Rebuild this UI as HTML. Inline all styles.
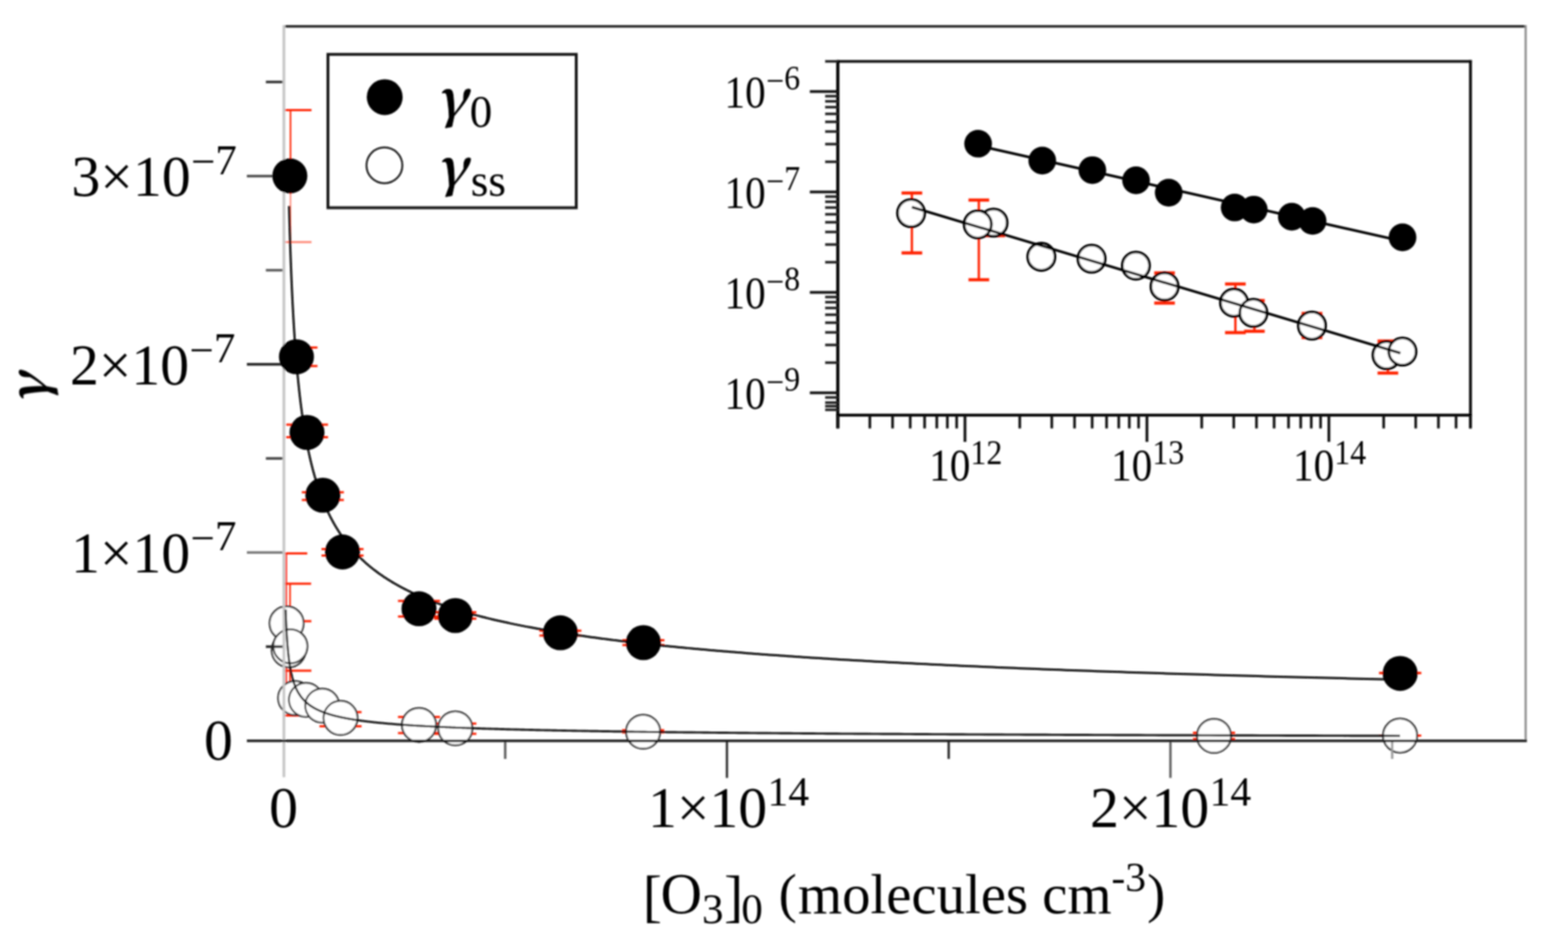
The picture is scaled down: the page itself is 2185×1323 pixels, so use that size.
<!DOCTYPE html>
<html><head><meta charset="utf-8"><title>gamma vs O3</title>
<style>
html,body{margin:0;padding:0;background:#fff;}
svg{display:block;}
text{font-family:'Liberation Serif','Times New Roman',serif}
</style></head>
<body>
<svg width="2185" height="1323" viewBox="0 0 2185 1323">
<defs><clipPath id="mclip"><rect x="396.5" y="30" width="1740" height="1010"/></clipPath>
<filter id="soft" x="-10" y="-10" width="2205" height="1343" filterUnits="userSpaceOnUse"><feGaussianBlur stdDeviation="1.0"/></filter></defs>
<rect x="0" y="0" width="2185" height="1323" fill="#fff"/>
<g filter="url(#soft)">
<line x1="395.60" y1="36.80" x2="2126.00" y2="36.80" stroke="#262626" stroke-width="3.60"/>
<line x1="2126.00" y1="35.00" x2="2126.00" y2="1032.70" stroke="#8c8c8c" stroke-width="3.00"/>
<g clip-path="url(#mclip)">
<g>
<line x1="398.90" y1="771.50" x2="398.90" y2="967.50" stroke="#ff2200" stroke-width="2.20"/>
<line x1="369.60" y1="771.50" x2="428.20" y2="771.50" stroke="#ff2200" stroke-width="3.00"/>
<line x1="369.60" y1="967.50" x2="428.20" y2="967.50" stroke="#ff2200" stroke-width="3.00"/>
</g>
<g>
<line x1="404.20" y1="813.80" x2="404.20" y2="997.50" stroke="#ff2200" stroke-width="2.20"/>
<line x1="374.90" y1="813.80" x2="433.50" y2="813.80" stroke="#ff2200" stroke-width="3.00"/>
<line x1="374.90" y1="997.50" x2="433.50" y2="997.50" stroke="#ff2200" stroke-width="3.00"/>
</g>
<g>
<line x1="404.60" y1="866.00" x2="404.60" y2="935.00" stroke="#ff2200" stroke-width="2.20"/>
<line x1="375.30" y1="866.00" x2="433.90" y2="866.00" stroke="#ff2200" stroke-width="3.00"/>
<line x1="375.30" y1="935.00" x2="433.90" y2="935.00" stroke="#ff2200" stroke-width="3.00"/>
</g>
<g>
<line x1="474.50" y1="992.70" x2="474.50" y2="1012.50" stroke="#ff2200" stroke-width="2.20"/>
<line x1="445.20" y1="992.70" x2="503.80" y2="992.70" stroke="#ff2200" stroke-width="3.00"/>
<line x1="445.20" y1="1012.50" x2="503.80" y2="1012.50" stroke="#ff2200" stroke-width="3.00"/>
</g>
<g>
<line x1="583.90" y1="999.40" x2="583.90" y2="1022.00" stroke="#ff2200" stroke-width="2.20"/>
<line x1="554.60" y1="999.40" x2="613.20" y2="999.40" stroke="#ff2200" stroke-width="3.00"/>
<line x1="554.60" y1="1022.00" x2="613.20" y2="1022.00" stroke="#ff2200" stroke-width="3.00"/>
</g>
<g>
<line x1="634.50" y1="1008.70" x2="634.50" y2="1023.00" stroke="#ff2200" stroke-width="2.20"/>
<line x1="605.20" y1="1008.70" x2="663.80" y2="1008.70" stroke="#ff2200" stroke-width="3.00"/>
<line x1="605.20" y1="1023.00" x2="663.80" y2="1023.00" stroke="#ff2200" stroke-width="3.00"/>
</g>
<g>
<line x1="896.20" y1="1018.00" x2="896.20" y2="1021.00" stroke="#ff2200" stroke-width="2.20"/>
<line x1="866.90" y1="1018.00" x2="925.50" y2="1018.00" stroke="#ff2200" stroke-width="3.00"/>
<line x1="866.90" y1="1021.00" x2="925.50" y2="1021.00" stroke="#ff2200" stroke-width="3.00"/>
</g>
<g>
<line x1="1691.70" y1="1021.50" x2="1691.70" y2="1030.20" stroke="#ff2200" stroke-width="2.20"/>
<line x1="1662.40" y1="1021.50" x2="1721.00" y2="1021.50" stroke="#ff2200" stroke-width="3.00"/>
<line x1="1662.40" y1="1030.20" x2="1721.00" y2="1030.20" stroke="#ff2200" stroke-width="3.00"/>
</g>
<g>
<line x1="1951.00" y1="1025.50" x2="1951.00" y2="1025.50" stroke="#ff2200" stroke-width="2.20"/>
<line x1="1921.70" y1="1025.50" x2="1980.30" y2="1025.50" stroke="#ff2200" stroke-width="3.00"/>
<line x1="1921.70" y1="1025.50" x2="1980.30" y2="1025.50" stroke="#ff2200" stroke-width="3.00"/>
</g>
<g>
<line x1="404.80" y1="153.50" x2="404.80" y2="270.00" stroke="#ff2200" stroke-width="2.20"/>
<line x1="375.50" y1="153.50" x2="434.10" y2="153.50" stroke="#ff2200" stroke-width="3.00"/>
</g>
<g opacity="0.50">
<line x1="404.80" y1="270.00" x2="404.80" y2="337.50" stroke="#ff2200" stroke-width="2.20"/>
<line x1="375.50" y1="337.50" x2="434.10" y2="337.50" stroke="#ff2200" stroke-width="3.00"/>
</g>
<g>
<line x1="413.10" y1="484.50" x2="413.10" y2="510.30" stroke="#ff2200" stroke-width="2.20"/>
<line x1="383.80" y1="484.50" x2="442.40" y2="484.50" stroke="#ff2200" stroke-width="3.00"/>
<line x1="383.80" y1="510.30" x2="442.40" y2="510.30" stroke="#ff2200" stroke-width="3.00"/>
</g>
<g>
<line x1="427.80" y1="592.10" x2="427.80" y2="609.50" stroke="#ff2200" stroke-width="2.20"/>
<line x1="398.50" y1="592.10" x2="457.10" y2="592.10" stroke="#ff2200" stroke-width="3.00"/>
<line x1="398.50" y1="609.50" x2="457.10" y2="609.50" stroke="#ff2200" stroke-width="3.00"/>
</g>
<g>
<line x1="449.90" y1="686.20" x2="449.90" y2="696.90" stroke="#ff2200" stroke-width="2.20"/>
<line x1="420.60" y1="686.20" x2="479.20" y2="686.20" stroke="#ff2200" stroke-width="3.00"/>
<line x1="420.60" y1="696.90" x2="479.20" y2="696.90" stroke="#ff2200" stroke-width="3.00"/>
</g>
<g>
<line x1="477.30" y1="765.60" x2="477.30" y2="774.40" stroke="#ff2200" stroke-width="2.20"/>
<line x1="448.00" y1="765.60" x2="506.60" y2="765.60" stroke="#ff2200" stroke-width="3.00"/>
<line x1="448.00" y1="774.40" x2="506.60" y2="774.40" stroke="#ff2200" stroke-width="3.00"/>
</g>
<g>
<line x1="583.90" y1="837.80" x2="583.90" y2="859.50" stroke="#ff2200" stroke-width="2.20"/>
<line x1="554.60" y1="837.80" x2="613.20" y2="837.80" stroke="#ff2200" stroke-width="3.00"/>
<line x1="554.60" y1="859.50" x2="613.20" y2="859.50" stroke="#ff2200" stroke-width="3.00"/>
</g>
<g>
<line x1="634.50" y1="853.60" x2="634.50" y2="862.60" stroke="#ff2200" stroke-width="2.20"/>
<line x1="605.20" y1="853.60" x2="663.80" y2="853.60" stroke="#ff2200" stroke-width="3.00"/>
<line x1="605.20" y1="862.60" x2="663.80" y2="862.60" stroke="#ff2200" stroke-width="3.00"/>
</g>
<g>
<line x1="780.90" y1="879.20" x2="780.90" y2="886.00" stroke="#ff2200" stroke-width="2.20"/>
<line x1="751.60" y1="879.20" x2="810.20" y2="879.20" stroke="#ff2200" stroke-width="3.00"/>
<line x1="751.60" y1="886.00" x2="810.20" y2="886.00" stroke="#ff2200" stroke-width="3.00"/>
</g>
<g>
<line x1="896.60" y1="892.60" x2="896.60" y2="899.20" stroke="#ff2200" stroke-width="2.20"/>
<line x1="867.30" y1="892.60" x2="925.90" y2="892.60" stroke="#ff2200" stroke-width="3.00"/>
<line x1="867.30" y1="899.20" x2="925.90" y2="899.20" stroke="#ff2200" stroke-width="3.00"/>
</g>
<g>
<line x1="1951.10" y1="938.30" x2="1951.10" y2="938.30" stroke="#ff2200" stroke-width="2.20"/>
<line x1="1921.80" y1="938.30" x2="1980.40" y2="938.30" stroke="#ff2200" stroke-width="3.00"/>
<line x1="1921.80" y1="938.30" x2="1980.40" y2="938.30" stroke="#ff2200" stroke-width="3.00"/>
</g>
</g>
<circle cx="399.40" cy="869.00" r="23.70" fill="#fff" stroke="#2a2a2a" stroke-width="2.5"/>
<circle cx="402.30" cy="906.50" r="23.70" fill="#fff" stroke="#2a2a2a" stroke-width="2.5"/>
<circle cx="404.60" cy="901.00" r="23.70" fill="#fff" stroke="#2a2a2a" stroke-width="2.5"/>
<circle cx="411.30" cy="973.20" r="23.70" fill="#fff" stroke="#2a2a2a" stroke-width="2.5"/>
<circle cx="426.30" cy="975.60" r="23.70" fill="#fff" stroke="#2a2a2a" stroke-width="2.5"/>
<circle cx="449.00" cy="983.60" r="23.70" fill="#fff" stroke="#2a2a2a" stroke-width="2.5"/>
<circle cx="474.50" cy="1000.80" r="23.70" fill="#fff" stroke="#2a2a2a" stroke-width="2.5"/>
<circle cx="583.90" cy="1010.70" r="23.70" fill="#fff" stroke="#2a2a2a" stroke-width="2.5"/>
<circle cx="634.50" cy="1015.40" r="23.70" fill="#fff" stroke="#2a2a2a" stroke-width="2.5"/>
<circle cx="896.20" cy="1020.10" r="23.70" fill="#fff" stroke="#2a2a2a" stroke-width="2.5"/>
<circle cx="1691.70" cy="1025.90" r="23.70" fill="#fff" stroke="#2a2a2a" stroke-width="2.5"/>
<circle cx="1951.00" cy="1025.50" r="23.70" fill="#fff" stroke="#2a2a2a" stroke-width="2.5"/>
<line x1="370.50" y1="114.30" x2="394.10" y2="114.30" stroke="#303030" stroke-width="3.60"/>
<line x1="344.00" y1="245.50" x2="394.10" y2="245.50" stroke="#4a4a4a" stroke-width="3.60"/>
<line x1="370.50" y1="376.70" x2="394.10" y2="376.70" stroke="#5a5a5a" stroke-width="3.60"/>
<line x1="344.00" y1="507.90" x2="394.10" y2="507.90" stroke="#262626" stroke-width="3.60"/>
<line x1="370.50" y1="639.10" x2="394.10" y2="639.10" stroke="#444" stroke-width="3.60"/>
<line x1="344.00" y1="770.30" x2="394.10" y2="770.30" stroke="#777" stroke-width="3.60"/>
<line x1="370.50" y1="901.50" x2="394.10" y2="901.50" stroke="#222" stroke-width="3.60"/>
<line x1="704.00" y1="1032.70" x2="704.00" y2="1058.00" stroke="#555" stroke-width="3.20"/>
<line x1="1013.00" y1="1032.70" x2="1013.00" y2="1084.50" stroke="#2e2e2e" stroke-width="3.20"/>
<line x1="1322.00" y1="1032.70" x2="1322.00" y2="1058.00" stroke="#222" stroke-width="3.20"/>
<line x1="1631.00" y1="1032.70" x2="1631.00" y2="1084.50" stroke="#5a5a5a" stroke-width="3.20"/>
<line x1="1940.00" y1="1032.70" x2="1940.00" y2="1058.00" stroke="#9a9a9a" stroke-width="3.20"/>
<line x1="395.60" y1="35.00" x2="395.60" y2="1083.50" stroke="#c6c6c6" stroke-width="3.80"/>
<line x1="344.00" y1="1032.70" x2="2127.70" y2="1032.70" stroke="#1a1a1a" stroke-width="3.60"/>
<polyline points="402.80,287.18 402.86,289.48 402.92,291.78 402.98,294.08 403.04,296.36 403.10,298.64 403.16,300.91 403.22,303.17 403.29,305.43 403.35,307.68 403.41,309.92 403.48,312.16 403.54,314.39 403.61,316.61 403.67,318.83 403.74,321.03 403.80,323.24 403.87,325.43 403.94,327.62 404.01,329.80 404.07,331.97 404.14,334.14 404.21,336.30 404.28,338.46 404.35,340.61 404.42,342.75 404.50,344.88 404.57,347.01 404.64,349.13 404.71,351.25 404.79,353.35 404.86,355.46 404.94,357.55 405.01,359.64 405.09,361.72 405.16,363.80 405.24,365.87 405.32,367.93 405.40,369.99 405.48,372.04 405.56,374.08 405.64,376.12 405.72,378.15 405.80,380.17 405.88,382.19 405.96,384.20 406.05,386.21 406.13,388.21 406.22,390.20 406.30,392.19 406.39,394.17 406.47,396.15 406.56,398.12 406.65,400.08 406.74,402.04 406.83,403.99 406.91,405.93 407.01,407.87 407.10,409.81 407.19,411.73 407.28,413.65 407.37,415.57 407.47,417.48 407.56,419.38 407.66,421.28 407.75,423.17 407.85,425.06 407.95,426.94 408.05,428.81 408.15,430.68 408.25,432.54 408.35,434.40 408.45,436.25 408.55,438.09 408.65,439.93 408.76,441.77 408.86,443.60 408.97,445.42 409.07,447.23 409.18,449.05 409.29,450.85 409.40,452.65 409.50,454.45 409.62,456.24 409.73,458.02 409.84,459.80 409.95,461.57 410.06,463.34 410.18,465.10 410.29,466.85 410.41,468.60 410.53,470.35 410.64,472.09 410.76,473.82 410.88,475.55 411.00,477.28 411.13,478.99 411.25,480.71 411.37,482.41 411.50,484.12 411.62,485.81 411.75,487.51 411.87,489.19 412.00,490.87 412.13,492.55 412.26,494.22 412.39,495.89 412.52,497.55 412.66,499.20 412.79,500.85 412.93,502.50 413.06,504.14 413.20,505.77 413.34,507.40 413.48,509.03 413.62,510.65 413.76,512.26 413.90,513.87 414.05,515.48 414.19,517.08 414.34,518.67 414.48,520.26 414.63,521.85 414.78,523.43 414.93,525.01 415.08,526.58 415.23,528.14 415.39,529.70 415.54,531.26 415.70,532.81 415.86,534.36 416.01,535.90 416.17,537.44 416.33,538.97 416.50,540.50 416.66,542.02 416.82,543.54 416.99,545.05 417.16,546.56 417.33,548.06 417.49,549.56 417.67,551.06 417.84,552.55 418.01,554.03 418.19,555.51 418.36,556.99 418.54,558.46 418.72,559.93 418.90,561.39 419.08,562.85 419.26,564.30 419.45,565.75 419.63,567.19 419.82,568.64 420.01,570.07 420.20,571.50 420.39,572.93 420.58,574.35 420.78,575.77 420.97,577.18 421.17,578.59 421.37,580.00 421.57,581.40 421.77,582.79 421.97,584.19 422.18,585.57 422.38,586.96 422.59,588.33 422.80,589.71 423.01,591.08 423.23,592.45 423.44,593.81 423.66,595.17 423.87,596.52 424.09,597.87 424.31,599.21 424.54,600.56 424.76,601.89 424.99,603.22 425.22,604.55 425.44,605.88 425.68,607.20 425.91,608.51 426.14,609.83 426.38,611.14 426.62,612.44 426.86,613.74 427.10,615.04 427.34,616.33 427.59,617.62 427.84,618.90 428.09,620.18 428.34,621.46 428.59,622.73 428.85,624.00 429.10,625.26 429.36,626.52 429.62,627.78 429.89,629.03 430.15,630.28 430.42,631.52 430.69,632.77 430.96,634.00 431.23,635.24 431.51,636.47 431.78,637.69 432.06,638.91 432.34,640.13 432.63,641.35 432.91,642.56 433.20,643.76 433.49,644.97 433.78,646.17 434.08,647.36 434.37,648.55 434.67,649.74 434.98,650.93 435.28,652.11 435.58,653.29 435.89,654.46 436.20,655.63 436.52,656.80 436.83,657.96 437.15,659.12 437.47,660.27 437.79,661.43 438.12,662.58 438.44,663.72 438.77,664.86 439.11,666.00 439.44,667.13 439.78,668.27 440.12,669.39 440.46,670.52 440.81,671.64 441.15,672.75 441.51,673.87 441.86,674.98 442.21,676.08 442.57,677.19 442.93,678.29 443.30,679.38 443.67,680.48 444.03,681.57 444.41,682.65 444.78,683.74 445.16,684.82 445.54,685.89 445.93,686.96 446.31,688.03 446.70,689.10 447.09,690.16 447.49,691.22 447.89,692.28 448.29,693.33 448.69,694.38 449.10,695.43 449.51,696.47 449.93,697.51 450.34,698.55 450.76,699.58 451.19,700.61 451.61,701.64 452.04,702.67 452.48,703.69 452.91,704.70 453.35,705.72 453.80,706.73 454.24,707.74 454.69,708.74 455.15,709.75 455.60,710.75 456.06,711.74 456.53,712.73 457.00,713.72 457.47,714.71 457.94,715.69 458.42,716.68 458.90,717.65 459.39,718.63 459.87,719.60 460.37,720.57 460.86,721.53 461.36,722.50 461.87,723.46 462.38,724.41 462.89,725.37 463.40,726.32 463.92,727.27 464.45,728.21 464.97,729.15 465.50,730.09 466.04,731.03 466.58,731.96 467.12,732.89 467.67,733.82 468.22,734.74 468.78,735.66 469.34,736.58 469.90,737.50 470.47,738.41 471.04,739.32 471.62,740.23 472.20,741.14 472.79,742.04 473.38,742.94 473.98,743.83 474.58,744.73 475.18,745.62 475.79,746.51 476.40,747.39 477.02,748.27 477.64,749.15 478.27,750.03 478.90,750.91 479.54,751.78 480.18,752.65 480.83,753.51 481.48,754.38 482.14,755.24 482.80,756.10 483.47,756.95 484.14,757.80 484.82,758.66 485.50,759.50 486.19,760.35 486.88,761.19 487.58,762.03 488.28,762.87 488.99,763.70 489.70,764.54 490.42,765.36 491.14,766.19 491.87,767.02 492.61,767.84 493.35,768.66 494.10,769.47 494.85,770.29 495.61,771.10 496.37,771.91 497.14,772.72 497.92,773.52 498.70,774.32 499.49,775.12 500.28,775.92 501.08,776.71 501.89,777.51 502.70,778.29 503.52,779.08 504.34,779.87 505.17,780.65 506.01,781.43 506.85,782.21 507.70,782.98 508.56,783.75 509.42,784.52 510.29,785.29 511.16,786.06 512.04,786.82 512.93,787.58 513.83,788.34 514.73,789.09 515.64,789.85 516.56,790.60 517.48,791.35 518.41,792.09 519.35,792.84 520.29,793.58 521.24,794.32 522.20,795.06 523.17,795.79 524.14,796.53 525.12,797.26 526.11,797.99 527.11,798.71 528.11,799.44 529.12,800.16 530.14,800.88 531.16,801.59 532.20,802.31 533.24,803.02 534.29,803.73 535.35,804.44 536.41,805.15 537.49,805.85 538.57,806.55 539.66,807.25 540.76,807.95 541.87,808.64 542.98,809.34 544.10,810.03 545.24,810.72 546.38,811.40 547.53,812.09 548.69,812.77 549.85,813.45 551.03,814.13 552.21,814.81 553.41,815.48 554.61,816.15 555.82,816.82 557.04,817.49 558.27,818.16 559.51,818.82 560.76,819.48 562.02,820.14 563.29,820.80 564.57,821.45 565.86,822.11 567.15,822.76 568.46,823.41 569.78,824.06 571.11,824.70 572.44,825.34 573.79,825.99 575.15,826.63 576.52,827.26 577.90,827.90 579.28,828.53 580.68,829.16 582.09,829.79 583.52,830.42 584.95,831.05 586.39,831.67 587.84,832.29 589.31,832.91 590.78,833.53 592.27,834.15 593.77,834.76 595.28,835.37 596.80,835.98 598.33,836.59 599.87,837.20 601.43,837.80 603.00,838.41 604.58,839.01 606.17,839.61 607.77,840.20 609.39,840.80 611.02,841.39 612.66,841.99 614.31,842.58 615.98,843.16 617.65,843.75 619.34,844.34 621.05,844.92 622.76,845.50 624.49,846.08 626.24,846.66 627.99,847.23 629.76,847.80 631.55,848.38 633.34,848.95 635.15,849.52 636.98,850.08 638.81,850.65 640.66,851.21 642.53,851.77 644.41,852.33 646.30,852.89 648.21,853.45 650.14,854.00 652.07,854.55 654.03,855.10 655.99,855.65 657.97,856.20 659.97,856.75 661.98,857.29 664.01,857.83 666.05,858.38 668.11,858.91 670.19,859.45 672.28,859.99 674.38,860.52 676.50,861.05 678.64,861.59 680.80,862.12 682.97,862.64 685.15,863.17 687.36,863.69 689.58,864.22 691.81,864.74 694.07,865.26 696.34,865.78 698.63,866.29 700.93,866.81 703.26,867.32 705.60,867.83 707.96,868.34 710.33,868.85 712.73,869.36 715.14,869.86 717.57,870.37 720.02,870.87 722.49,871.37 724.98,871.87 727.48,872.37 730.01,872.86 732.55,873.36 735.11,873.85 737.70,874.34 740.30,874.83 742.92,875.32 745.56,875.81 748.23,876.29 750.91,876.77 753.61,877.26 756.34,877.74 759.08,878.22 761.84,878.70 764.63,879.17 767.44,879.65 770.27,880.12 773.12,880.59 775.99,881.06 778.88,881.53 781.80,882.00 784.73,882.47 787.69,882.93 790.67,883.39 793.68,883.86 796.71,884.32 799.76,884.78 802.83,885.23 805.93,885.69 809.05,886.14 812.19,886.60 815.36,887.05 818.55,887.50 821.77,887.95 825.01,888.40 828.28,888.84 831.57,889.29 834.88,889.73 838.22,890.17 841.59,890.62 844.98,891.05 848.40,891.49 851.84,891.93 855.31,892.37 858.81,892.80 862.33,893.23 865.88,893.66 869.45,894.09 873.06,894.52 876.69,894.95 880.34,895.38 884.03,895.80 887.74,896.22 891.49,896.65 895.26,897.07 899.06,897.49 902.88,897.91 906.74,898.32 910.63,898.74 914.54,899.15 918.49,899.57 922.46,899.98 926.47,900.39 930.50,900.80 934.57,901.21 938.67,901.61 942.80,902.02 946.96,902.42 951.15,902.83 955.37,903.23 959.63,903.63 963.92,904.03 968.24,904.43 972.59,904.82 976.98,905.22 981.40,905.61 985.85,906.01 990.34,906.40 994.86,906.79 999.41,907.18 1004.00,907.57 1008.63,907.95 1013.29,908.34 1017.98,908.72 1022.71,909.11 1027.48,909.49 1032.28,909.87 1037.12,910.25 1042.00,910.63 1046.91,911.01 1051.86,911.38 1056.85,911.76 1061.88,912.13 1066.94,912.51 1072.05,912.88 1077.19,913.25 1082.37,913.62 1087.59,913.99 1092.85,914.35 1098.15,914.72 1103.49,915.08 1108.87,915.45 1114.29,915.81 1119.75,916.17 1125.25,916.53 1130.80,916.89 1136.39,917.25 1142.02,917.61 1147.69,917.96 1153.41,918.32 1159.17,918.67 1164.97,919.03 1170.82,919.38 1176.71,919.73 1182.65,920.08 1188.63,920.43 1194.65,920.77 1200.73,921.12 1206.84,921.46 1213.01,921.81 1219.22,922.15 1225.48,922.49 1231.79,922.83 1238.14,923.17 1244.55,923.51 1251.00,923.85 1257.50,924.19 1264.05,924.52 1270.65,924.86 1277.30,925.19 1284.00,925.52 1290.75,925.86 1297.55,926.19 1304.41,926.52 1311.31,926.84 1318.27,927.17 1325.28,927.50 1332.35,927.82 1339.46,928.15 1346.64,928.47 1353.86,928.79 1361.15,929.12 1368.48,929.44 1375.88,929.76 1383.32,930.07 1390.83,930.39 1398.39,930.71 1406.01,931.02 1413.69,931.34 1421.43,931.65 1429.22,931.96 1437.07,932.28 1444.99,932.59 1452.96,932.90 1461.00,933.21 1469.09,933.51 1477.25,933.82 1485.47,934.13 1493.75,934.43 1502.09,934.73 1510.50,935.04 1518.97,935.34 1527.51,935.64 1536.11,935.94 1544.77,936.24 1553.50,936.54 1562.30,936.84 1571.17,937.13 1580.10,937.43 1589.10,937.72 1598.17,938.02 1607.30,938.31 1616.51,938.60 1625.79,938.89 1635.13,939.18 1644.55,939.47 1654.04,939.76 1663.60,940.05 1673.24,940.34 1682.94,940.62 1692.72,940.91 1702.58,941.19 1712.51,941.47 1722.51,941.76 1732.60,942.04 1742.75,942.32 1752.99,942.60 1763.30,942.88 1773.69,943.15 1784.16,943.43 1794.71,943.71 1805.34,943.98 1816.05,944.26 1826.84,944.53 1837.72,944.80 1848.67,945.07 1859.71,945.35 1870.84,945.62 1882.04,945.89 1893.34,946.15 1904.72,946.42 1916.18,946.69 1927.73,946.95 1939.37,947.22 1951.10,947.48" fill="none" stroke="#080808" stroke-width="3.00" stroke-linejoin="round"/>
<polyline points="398.10,849.78 398.13,850.64 398.16,851.49 398.18,852.34 398.21,853.19 398.24,854.03 398.27,854.86 398.30,855.70 398.33,856.52 398.36,857.35 398.39,858.17 398.42,858.99 398.45,859.80 398.48,860.61 398.51,861.42 398.54,862.22 398.57,863.02 398.61,863.81 398.64,864.60 398.67,865.39 398.70,866.17 398.74,866.95 398.77,867.73 398.80,868.50 398.84,869.27 398.87,870.03 398.91,870.80 398.94,871.55 398.98,872.31 399.01,873.06 399.05,873.81 399.08,874.55 399.12,875.29 399.16,876.03 399.19,876.76 399.23,877.49 399.27,878.22 399.31,878.94 399.34,879.66 399.38,880.38 399.42,881.09 399.46,881.80 399.50,882.51 399.54,883.21 399.58,883.91 399.62,884.61 399.66,885.30 399.71,885.99 399.75,886.68 399.79,887.36 399.83,888.04 399.88,888.72 399.92,889.39 399.96,890.07 400.01,890.73 400.05,891.40 400.10,892.06 400.14,892.72 400.19,893.37 400.24,894.03 400.28,894.68 400.33,895.32 400.38,895.96 400.43,896.60 400.47,897.24 400.52,897.88 400.57,898.51 400.62,899.14 400.67,899.76 400.72,900.38 400.77,901.00 400.82,901.62 400.88,902.23 400.93,902.84 400.98,903.45 401.04,904.06 401.09,904.66 401.14,905.26 401.20,905.86 401.25,906.45 401.31,907.04 401.37,907.63 401.42,908.22 401.48,908.80 401.54,909.38 401.60,909.96 401.66,910.53 401.71,911.10 401.77,911.67 401.83,912.24 401.90,912.80 401.96,913.36 402.02,913.92 402.08,914.48 402.15,915.03 402.21,915.58 402.27,916.13 402.34,916.68 402.40,917.22 402.47,917.76 402.54,918.30 402.60,918.84 402.67,919.37 402.74,919.90 402.81,920.43 402.88,920.95 402.95,921.48 403.02,922.00 403.09,922.52 403.16,923.03 403.24,923.54 403.31,924.06 403.38,924.56 403.46,925.07 403.53,925.57 403.61,926.08 403.69,926.58 403.77,927.07 403.84,927.57 403.92,928.06 404.00,928.55 404.08,929.04 404.16,929.52 404.24,930.01 404.33,930.49 404.41,930.96 404.49,931.44 404.58,931.92 404.66,932.39 404.75,932.86 404.84,933.32 404.93,933.79 405.01,934.25 405.10,934.71 405.19,935.17 405.28,935.63 405.38,936.08 405.47,936.54 405.56,936.99 405.66,937.43 405.75,937.88 405.85,938.32 405.94,938.77 406.04,939.21 406.14,939.64 406.24,940.08 406.34,940.51 406.44,940.95 406.54,941.37 406.65,941.80 406.75,942.23 406.86,942.65 406.96,943.07 407.07,943.49 407.18,943.91 407.28,944.33 407.39,944.74 407.50,945.15 407.62,945.56 407.73,945.97 407.84,946.38 407.96,946.78 408.07,947.18 408.19,947.58 408.31,947.98 408.43,948.38 408.55,948.77 408.67,949.17 408.79,949.56 408.91,949.95 409.04,950.33 409.16,950.72 409.29,951.10 409.41,951.49 409.54,951.87 409.67,952.24 409.80,952.62 409.94,953.00 410.07,953.37 410.20,953.74 410.34,954.11 410.48,954.48 410.61,954.84 410.75,955.21 410.89,955.57 411.04,955.93 411.18,956.29 411.32,956.65 411.47,957.01 411.62,957.36 411.76,957.71 411.91,958.06 412.07,958.41 412.22,958.76 412.37,959.11 412.53,959.45 412.68,959.80 412.84,960.14 413.00,960.48 413.16,960.81 413.32,961.15 413.49,961.49 413.65,961.82 413.82,962.15 413.98,962.48 414.15,962.81 414.33,963.14 414.50,963.46 414.67,963.79 414.85,964.11 415.02,964.43 415.20,964.75 415.38,965.07 415.57,965.39 415.75,965.70 415.93,966.02 416.12,966.33 416.31,966.64 416.50,966.95 416.69,967.26 416.88,967.56 417.08,967.87 417.28,968.17 417.48,968.47 417.68,968.77 417.88,969.07 418.08,969.37 418.29,969.67 418.50,969.96 418.71,970.26 418.92,970.55 419.13,970.84 419.35,971.13 419.56,971.42 419.78,971.70 420.00,971.99 420.23,972.27 420.45,972.56 420.68,972.84 420.91,973.12 421.14,973.40 421.37,973.68 421.61,973.95 421.85,974.23 422.09,974.50 422.33,974.77 422.57,975.04 422.82,975.31 423.06,975.58 423.32,975.85 423.57,976.12 423.82,976.38 424.08,976.65 424.34,976.91 424.60,977.17 424.87,977.43 425.13,977.69 425.40,977.95 425.67,978.20 425.95,978.46 426.22,978.71 426.50,978.96 426.78,979.22 427.07,979.47 427.35,979.71 427.64,979.96 427.93,980.21 428.23,980.46 428.52,980.70 428.82,980.94 429.12,981.19 429.43,981.43 429.73,981.67 430.04,981.91 430.36,982.14 430.67,982.38 430.99,982.62 431.31,982.85 431.64,983.08 431.96,983.32 432.29,983.55 432.63,983.78 432.96,984.01 433.30,984.24 433.64,984.46 433.99,984.69 434.33,984.91 434.69,985.14 435.04,985.36 435.40,985.58 435.76,985.80 436.12,986.02 436.49,986.24 436.86,986.46 437.23,986.67 437.61,986.89 437.99,987.10 438.37,987.32 438.76,987.53 439.15,987.74 439.54,987.95 439.94,988.16 440.34,988.37 440.75,988.58 441.15,988.78 441.57,988.99 441.98,989.19 442.40,989.40 442.82,989.60 443.25,989.80 443.68,990.00 444.12,990.20 444.55,990.40 445.00,990.60 445.44,990.80 445.89,990.99 446.35,991.19 446.80,991.38 447.27,991.58 447.73,991.77 448.20,991.96 448.68,992.15 449.16,992.34 449.64,992.53 450.13,992.72 450.62,992.91 451.12,993.09 451.62,993.28 452.12,993.46 452.63,993.65 453.15,993.83 453.67,994.01 454.19,994.19 454.72,994.37 455.25,994.55 455.79,994.73 456.33,994.91 456.88,995.09 457.43,995.26 457.99,995.44 458.55,995.61 459.12,995.78 459.69,995.96 460.26,996.13 460.85,996.30 461.43,996.47 462.03,996.64 462.63,996.81 463.23,996.98 463.84,997.14 464.45,997.31 465.07,997.48 465.70,997.64 466.33,997.81 466.96,997.97 467.61,998.13 468.25,998.29 468.91,998.46 469.57,998.62 470.23,998.78 470.90,998.93 471.58,999.09 472.26,999.25 472.95,999.41 473.65,999.56 474.35,999.72 475.06,999.87 475.77,1000.03 476.49,1000.18 477.22,1000.33 477.96,1000.48 478.70,1000.63 479.44,1000.78 480.20,1000.93 480.96,1001.08 481.72,1001.23 482.50,1001.38 483.28,1001.52 484.07,1001.67 484.86,1001.81 485.66,1001.96 486.47,1002.10 487.29,1002.25 488.11,1002.39 488.94,1002.53 489.78,1002.67 490.63,1002.81 491.48,1002.95 492.34,1003.09 493.21,1003.23 494.09,1003.37 494.97,1003.51 495.86,1003.64 496.76,1003.78 497.67,1003.91 498.59,1004.05 499.51,1004.18 500.44,1004.32 501.38,1004.45 502.33,1004.58 503.29,1004.71 504.26,1004.84 505.23,1004.97 506.21,1005.10 507.21,1005.23 508.21,1005.36 509.22,1005.49 510.24,1005.62 511.27,1005.74 512.30,1005.87 513.35,1006.00 514.41,1006.12 515.47,1006.25 516.55,1006.37 517.63,1006.49 518.73,1006.62 519.83,1006.74 520.94,1006.86 522.07,1006.98 523.20,1007.10 524.35,1007.22 525.50,1007.34 526.66,1007.46 527.84,1007.58 529.02,1007.69 530.22,1007.81 531.43,1007.93 532.64,1008.04 533.87,1008.16 535.11,1008.27 536.36,1008.39 537.62,1008.50 538.90,1008.62 540.18,1008.73 541.47,1008.84 542.78,1008.95 544.10,1009.06 545.43,1009.17 546.77,1009.28 548.13,1009.39 549.49,1009.50 550.87,1009.61 552.26,1009.72 553.67,1009.83 555.08,1009.94 556.51,1010.04 557.95,1010.15 559.41,1010.25 560.87,1010.36 562.35,1010.46 563.85,1010.57 565.35,1010.67 566.87,1010.77 568.41,1010.88 569.95,1010.98 571.52,1011.08 573.09,1011.18 574.68,1011.28 576.28,1011.38 577.90,1011.48 579.53,1011.58 581.18,1011.68 582.84,1011.78 584.52,1011.88 586.21,1011.97 587.91,1012.07 589.64,1012.17 591.37,1012.26 593.12,1012.36 594.89,1012.46 596.68,1012.55 598.48,1012.64 600.29,1012.74 602.12,1012.83 603.97,1012.92 605.84,1013.02 607.72,1013.11 609.62,1013.20 611.53,1013.29 613.46,1013.38 615.41,1013.47 617.38,1013.56 619.36,1013.65 621.36,1013.74 623.38,1013.83 625.42,1013.92 627.48,1014.01 629.55,1014.10 631.65,1014.18 633.76,1014.27 635.89,1014.36 638.04,1014.44 640.21,1014.53 642.39,1014.61 644.60,1014.70 646.83,1014.78 649.08,1014.86 651.34,1014.95 653.63,1015.03 655.94,1015.11 658.27,1015.20 660.62,1015.28 662.99,1015.36 665.38,1015.44 667.79,1015.52 670.22,1015.60 672.68,1015.68 675.16,1015.76 677.66,1015.84 680.18,1015.92 682.72,1016.00 685.29,1016.08 687.88,1016.16 690.50,1016.23 693.13,1016.31 695.79,1016.39 698.48,1016.46 701.18,1016.54 703.92,1016.61 706.67,1016.69 709.45,1016.76 712.26,1016.84 715.09,1016.91 717.95,1016.99 720.83,1017.06 723.74,1017.13 726.67,1017.21 729.63,1017.28 732.62,1017.35 735.63,1017.42 738.67,1017.50 741.73,1017.57 744.83,1017.64 747.95,1017.71 751.10,1017.78 754.28,1017.85 757.48,1017.92 760.72,1017.99 763.98,1018.06 767.27,1018.12 770.59,1018.19 773.95,1018.26 777.33,1018.33 780.74,1018.40 784.18,1018.46 787.65,1018.53 791.16,1018.60 794.69,1018.66 798.26,1018.73 801.86,1018.79 805.49,1018.86 809.15,1018.92 812.85,1018.99 816.57,1019.05 820.34,1019.12 824.13,1019.18 827.96,1019.24 831.82,1019.30 835.72,1019.37 839.65,1019.43 843.62,1019.49 847.62,1019.55 851.66,1019.62 855.74,1019.68 859.85,1019.74 864.00,1019.80 868.18,1019.86 872.40,1019.92 876.66,1019.98 880.96,1020.04 885.30,1020.10 889.67,1020.16 894.09,1020.22 898.54,1020.27 903.03,1020.33 907.57,1020.39 912.14,1020.45 916.76,1020.51 921.41,1020.56 926.11,1020.62 930.85,1020.68 935.63,1020.73 940.45,1020.79 945.32,1020.84 950.23,1020.90 955.19,1020.95 960.18,1021.01 965.23,1021.06 970.32,1021.12 975.45,1021.17 980.63,1021.23 985.85,1021.28 991.13,1021.33 996.45,1021.39 1001.81,1021.44 1007.23,1021.49 1012.69,1021.55 1018.20,1021.60 1023.76,1021.65 1029.37,1021.70 1035.03,1021.75 1040.74,1021.80 1046.51,1021.86 1052.32,1021.91 1058.19,1021.96 1064.10,1022.01 1070.07,1022.06 1076.10,1022.11 1082.17,1022.16 1088.31,1022.21 1094.49,1022.25 1100.73,1022.30 1107.03,1022.35 1113.39,1022.40 1119.80,1022.45 1126.26,1022.50 1132.79,1022.54 1139.37,1022.59 1146.01,1022.64 1152.72,1022.69 1159.48,1022.73 1166.30,1022.78 1173.18,1022.83 1180.12,1022.87 1187.13,1022.92 1194.20,1022.96 1201.33,1023.01 1208.52,1023.06 1215.78,1023.10 1223.11,1023.15 1230.50,1023.19 1237.95,1023.24 1245.47,1023.28 1253.06,1023.32 1260.72,1023.37 1268.44,1023.41 1276.24,1023.45 1284.10,1023.50 1292.03,1023.54 1300.04,1023.58 1308.12,1023.63 1316.26,1023.67 1324.48,1023.71 1332.78,1023.75 1341.15,1023.80 1349.59,1023.84 1358.11,1023.88 1366.70,1023.92 1375.37,1023.96 1384.12,1024.00 1392.94,1024.04 1401.85,1024.08 1410.83,1024.12 1419.90,1024.16 1429.04,1024.20 1438.27,1024.24 1447.58,1024.28 1456.97,1024.32 1466.45,1024.36 1476.01,1024.40 1485.65,1024.44 1495.39,1024.48 1505.20,1024.52 1515.11,1024.56 1525.11,1024.59 1535.19,1024.63 1545.36,1024.67 1555.63,1024.71 1565.99,1024.74 1576.43,1024.78 1586.98,1024.82 1597.61,1024.86 1608.34,1024.89 1619.17,1024.93 1630.09,1024.96 1641.11,1025.00 1652.23,1025.04 1663.45,1025.07 1674.77,1025.11 1686.19,1025.14 1697.71,1025.18 1709.34,1025.21 1721.06,1025.25 1732.90,1025.28 1744.83,1025.32 1756.88,1025.35 1769.03,1025.39 1781.29,1025.42 1793.66,1025.46 1806.14,1025.49 1818.73,1025.52 1831.44,1025.56 1844.26,1025.59 1857.19,1025.62 1870.23,1025.66 1883.40,1025.69 1896.68,1025.72 1910.08,1025.76 1923.60,1025.79 1937.24,1025.82 1951.00,1025.85" fill="none" stroke="#101010" stroke-width="2.90" stroke-linejoin="round"/>
<circle cx="403.90" cy="245.20" r="24.40" fill="#000"/>
<circle cx="413.10" cy="497.40" r="24.40" fill="#000"/>
<circle cx="427.80" cy="602.90" r="24.40" fill="#000"/>
<circle cx="449.90" cy="690.40" r="24.40" fill="#000"/>
<circle cx="477.30" cy="769.50" r="24.40" fill="#000"/>
<circle cx="583.90" cy="848.70" r="24.40" fill="#000"/>
<circle cx="634.50" cy="858.10" r="24.40" fill="#000"/>
<circle cx="780.90" cy="882.20" r="24.40" fill="#000"/>
<circle cx="896.60" cy="895.90" r="24.40" fill="#000"/>
<circle cx="1951.10" cy="938.80" r="24.40" fill="#000"/>
<line x1="1167.48" y1="85.56" x2="2051.10" y2="85.56" stroke="#111" stroke-width="3.80"/>
<line x1="2049.10" y1="83.66" x2="2049.10" y2="597.26" stroke="#111" stroke-width="4.00"/>
<line x1="1167.48" y1="83.66" x2="1167.48" y2="597.26" stroke="#000" stroke-width="4.40"/>
<line x1="1165.48" y1="578.76" x2="2051.10" y2="578.76" stroke="#000" stroke-width="4.20"/>
<line x1="1149.80" y1="571.30" x2="1167.48" y2="571.30" stroke="#222" stroke-width="3.60"/>
<line x1="1149.80" y1="566.20" x2="1167.48" y2="566.20" stroke="#222" stroke-width="3.60"/>
<line x1="1149.80" y1="561.27" x2="1167.48" y2="561.27" stroke="#222" stroke-width="3.60"/>
<line x1="1149.80" y1="554.11" x2="1167.48" y2="554.11" stroke="#222" stroke-width="3.60"/>
<line x1="1128.50" y1="547.70" x2="1167.48" y2="547.70" stroke="#111" stroke-width="3.80"/>
<line x1="1149.80" y1="505.56" x2="1167.48" y2="505.56" stroke="#222" stroke-width="3.60"/>
<line x1="1149.80" y1="480.90" x2="1167.48" y2="480.90" stroke="#222" stroke-width="3.60"/>
<line x1="1149.80" y1="463.41" x2="1167.48" y2="463.41" stroke="#222" stroke-width="3.60"/>
<line x1="1149.80" y1="449.84" x2="1167.48" y2="449.84" stroke="#222" stroke-width="3.60"/>
<line x1="1149.80" y1="438.76" x2="1167.48" y2="438.76" stroke="#222" stroke-width="3.60"/>
<line x1="1149.80" y1="429.39" x2="1167.48" y2="429.39" stroke="#222" stroke-width="3.60"/>
<line x1="1149.80" y1="421.27" x2="1167.48" y2="421.27" stroke="#222" stroke-width="3.60"/>
<line x1="1149.80" y1="414.11" x2="1167.48" y2="414.11" stroke="#222" stroke-width="3.60"/>
<line x1="1128.50" y1="407.70" x2="1167.48" y2="407.70" stroke="#111" stroke-width="3.80"/>
<line x1="1149.80" y1="365.56" x2="1167.48" y2="365.56" stroke="#222" stroke-width="3.60"/>
<line x1="1149.80" y1="340.90" x2="1167.48" y2="340.90" stroke="#222" stroke-width="3.60"/>
<line x1="1149.80" y1="323.41" x2="1167.48" y2="323.41" stroke="#222" stroke-width="3.60"/>
<line x1="1149.80" y1="309.84" x2="1167.48" y2="309.84" stroke="#222" stroke-width="3.60"/>
<line x1="1149.80" y1="298.76" x2="1167.48" y2="298.76" stroke="#222" stroke-width="3.60"/>
<line x1="1149.80" y1="289.39" x2="1167.48" y2="289.39" stroke="#222" stroke-width="3.60"/>
<line x1="1149.80" y1="281.27" x2="1167.48" y2="281.27" stroke="#222" stroke-width="3.60"/>
<line x1="1149.80" y1="274.11" x2="1167.48" y2="274.11" stroke="#222" stroke-width="3.60"/>
<line x1="1128.50" y1="267.70" x2="1167.48" y2="267.70" stroke="#111" stroke-width="3.80"/>
<line x1="1149.80" y1="225.56" x2="1167.48" y2="225.56" stroke="#222" stroke-width="3.60"/>
<line x1="1149.80" y1="200.90" x2="1167.48" y2="200.90" stroke="#222" stroke-width="3.60"/>
<line x1="1149.80" y1="183.41" x2="1167.48" y2="183.41" stroke="#222" stroke-width="3.60"/>
<line x1="1149.80" y1="169.84" x2="1167.48" y2="169.84" stroke="#222" stroke-width="3.60"/>
<line x1="1149.80" y1="158.76" x2="1167.48" y2="158.76" stroke="#222" stroke-width="3.60"/>
<line x1="1149.80" y1="149.39" x2="1167.48" y2="149.39" stroke="#222" stroke-width="3.60"/>
<line x1="1149.80" y1="141.27" x2="1167.48" y2="141.27" stroke="#222" stroke-width="3.60"/>
<line x1="1149.80" y1="134.11" x2="1167.48" y2="134.11" stroke="#222" stroke-width="3.60"/>
<line x1="1128.50" y1="127.70" x2="1167.48" y2="127.70" stroke="#111" stroke-width="3.80"/>
<line x1="1149.80" y1="85.56" x2="1167.48" y2="85.56" stroke="#222" stroke-width="3.60"/>
<line x1="1167.48" y1="578.76" x2="1167.48" y2="597.26" stroke="#111" stroke-width="3.60"/>
<line x1="1212.12" y1="578.76" x2="1212.12" y2="597.26" stroke="#111" stroke-width="3.60"/>
<line x1="1243.80" y1="578.76" x2="1243.80" y2="597.26" stroke="#111" stroke-width="3.60"/>
<line x1="1268.37" y1="578.76" x2="1268.37" y2="597.26" stroke="#111" stroke-width="3.60"/>
<line x1="1288.45" y1="578.76" x2="1288.45" y2="597.26" stroke="#111" stroke-width="3.60"/>
<line x1="1305.42" y1="578.76" x2="1305.42" y2="597.26" stroke="#111" stroke-width="3.60"/>
<line x1="1320.13" y1="578.76" x2="1320.13" y2="597.26" stroke="#111" stroke-width="3.60"/>
<line x1="1333.10" y1="578.76" x2="1333.10" y2="597.26" stroke="#111" stroke-width="3.60"/>
<line x1="1344.70" y1="578.76" x2="1344.70" y2="616.00" stroke="#111" stroke-width="3.80"/>
<line x1="1421.03" y1="578.76" x2="1421.03" y2="597.26" stroke="#111" stroke-width="3.60"/>
<line x1="1465.67" y1="578.76" x2="1465.67" y2="597.26" stroke="#111" stroke-width="3.60"/>
<line x1="1497.35" y1="578.76" x2="1497.35" y2="597.26" stroke="#111" stroke-width="3.60"/>
<line x1="1521.92" y1="578.76" x2="1521.92" y2="597.26" stroke="#111" stroke-width="3.60"/>
<line x1="1542.00" y1="578.76" x2="1542.00" y2="597.26" stroke="#111" stroke-width="3.60"/>
<line x1="1558.97" y1="578.76" x2="1558.97" y2="597.26" stroke="#111" stroke-width="3.60"/>
<line x1="1573.68" y1="578.76" x2="1573.68" y2="597.26" stroke="#111" stroke-width="3.60"/>
<line x1="1586.65" y1="578.76" x2="1586.65" y2="597.26" stroke="#111" stroke-width="3.60"/>
<line x1="1598.25" y1="578.76" x2="1598.25" y2="616.00" stroke="#111" stroke-width="3.80"/>
<line x1="1674.58" y1="578.76" x2="1674.58" y2="597.26" stroke="#111" stroke-width="3.60"/>
<line x1="1719.22" y1="578.76" x2="1719.22" y2="597.26" stroke="#111" stroke-width="3.60"/>
<line x1="1750.90" y1="578.76" x2="1750.90" y2="597.26" stroke="#111" stroke-width="3.60"/>
<line x1="1775.47" y1="578.76" x2="1775.47" y2="597.26" stroke="#111" stroke-width="3.60"/>
<line x1="1795.55" y1="578.76" x2="1795.55" y2="597.26" stroke="#111" stroke-width="3.60"/>
<line x1="1812.52" y1="578.76" x2="1812.52" y2="597.26" stroke="#111" stroke-width="3.60"/>
<line x1="1827.23" y1="578.76" x2="1827.23" y2="597.26" stroke="#111" stroke-width="3.60"/>
<line x1="1840.20" y1="578.76" x2="1840.20" y2="597.26" stroke="#111" stroke-width="3.60"/>
<line x1="1851.80" y1="578.76" x2="1851.80" y2="616.00" stroke="#111" stroke-width="3.80"/>
<line x1="1928.13" y1="578.76" x2="1928.13" y2="597.26" stroke="#111" stroke-width="3.60"/>
<line x1="1972.77" y1="578.76" x2="1972.77" y2="597.26" stroke="#111" stroke-width="3.60"/>
<line x1="2004.45" y1="578.76" x2="2004.45" y2="597.26" stroke="#111" stroke-width="3.60"/>
<line x1="2029.02" y1="578.76" x2="2029.02" y2="597.26" stroke="#111" stroke-width="3.60"/>
<line x1="2049.10" y1="578.76" x2="2049.10" y2="597.26" stroke="#111" stroke-width="3.60"/>
<g>
<line x1="1270.70" y1="269.10" x2="1270.70" y2="352.60" stroke="#ff2200" stroke-width="3.20"/>
<line x1="1256.30" y1="269.10" x2="1285.10" y2="269.10" stroke="#ff2200" stroke-width="4.40"/>
<line x1="1256.30" y1="352.60" x2="1285.10" y2="352.60" stroke="#ff2200" stroke-width="4.40"/>
</g>
<g>
<line x1="1364.00" y1="278.90" x2="1364.00" y2="390.00" stroke="#ff2200" stroke-width="3.20"/>
<line x1="1349.60" y1="278.90" x2="1378.40" y2="278.90" stroke="#ff2200" stroke-width="4.40"/>
<line x1="1349.60" y1="390.00" x2="1378.40" y2="390.00" stroke="#ff2200" stroke-width="4.40"/>
</g>
<g>
<line x1="1386.00" y1="300.00" x2="1386.00" y2="328.50" stroke="#ff2200" stroke-width="3.20"/>
<line x1="1371.60" y1="300.00" x2="1400.40" y2="300.00" stroke="#ff2200" stroke-width="4.40"/>
<line x1="1371.60" y1="328.50" x2="1400.40" y2="328.50" stroke="#ff2200" stroke-width="4.40"/>
</g>
<g>
<line x1="1622.80" y1="380.50" x2="1622.80" y2="422.50" stroke="#ff2200" stroke-width="3.20"/>
<line x1="1608.40" y1="380.50" x2="1637.20" y2="380.50" stroke="#ff2200" stroke-width="4.40"/>
<line x1="1608.40" y1="422.50" x2="1637.20" y2="422.50" stroke="#ff2200" stroke-width="4.40"/>
</g>
<g>
<line x1="1721.50" y1="395.90" x2="1721.50" y2="463.70" stroke="#ff2200" stroke-width="3.20"/>
<line x1="1707.10" y1="395.90" x2="1735.90" y2="395.90" stroke="#ff2200" stroke-width="4.40"/>
<line x1="1707.10" y1="463.70" x2="1735.90" y2="463.70" stroke="#ff2200" stroke-width="4.40"/>
</g>
<g>
<line x1="1748.00" y1="419.00" x2="1748.00" y2="461.80" stroke="#ff2200" stroke-width="3.20"/>
<line x1="1733.60" y1="419.00" x2="1762.40" y2="419.00" stroke="#ff2200" stroke-width="4.40"/>
<line x1="1733.60" y1="461.80" x2="1762.40" y2="461.80" stroke="#ff2200" stroke-width="4.40"/>
</g>
<g>
<line x1="1828.20" y1="437.00" x2="1828.20" y2="470.60" stroke="#ff2200" stroke-width="3.20"/>
<line x1="1813.80" y1="437.00" x2="1842.60" y2="437.00" stroke="#ff2200" stroke-width="4.40"/>
<line x1="1813.80" y1="470.60" x2="1842.60" y2="470.60" stroke="#ff2200" stroke-width="4.40"/>
</g>
<g>
<line x1="1934.00" y1="475.50" x2="1934.00" y2="520.10" stroke="#ff2200" stroke-width="3.20"/>
<line x1="1919.60" y1="475.50" x2="1948.40" y2="475.50" stroke="#ff2200" stroke-width="4.40"/>
<line x1="1919.60" y1="520.10" x2="1948.40" y2="520.10" stroke="#ff2200" stroke-width="4.40"/>
</g>
<circle cx="1269.60" cy="297.10" r="19.00" fill="#fff" stroke="#000" stroke-width="3.8"/>
<circle cx="1384.50" cy="310.40" r="19.00" fill="#fff" stroke="#000" stroke-width="3.8"/>
<circle cx="1362.50" cy="312.80" r="19.00" fill="#fff" stroke="#000" stroke-width="3.8"/>
<circle cx="1451.10" cy="358.00" r="19.00" fill="#fff" stroke="#000" stroke-width="3.8"/>
<circle cx="1521.10" cy="360.70" r="19.00" fill="#fff" stroke="#000" stroke-width="3.8"/>
<circle cx="1582.90" cy="370.30" r="19.00" fill="#fff" stroke="#000" stroke-width="3.8"/>
<circle cx="1622.80" cy="399.40" r="19.00" fill="#fff" stroke="#000" stroke-width="3.8"/>
<circle cx="1719.60" cy="422.00" r="19.00" fill="#fff" stroke="#000" stroke-width="3.8"/>
<circle cx="1746.60" cy="436.20" r="19.00" fill="#fff" stroke="#000" stroke-width="3.8"/>
<circle cx="1828.20" cy="453.90" r="19.00" fill="#fff" stroke="#000" stroke-width="3.8"/>
<circle cx="1932.20" cy="495.10" r="19.00" fill="#fff" stroke="#000" stroke-width="3.8"/>
<circle cx="1954.30" cy="490.20" r="19.00" fill="#fff" stroke="#000" stroke-width="3.8"/>
<polyline points="1363.00,203.02 1954.40,336.32" stroke="#000" stroke-width="3.6" fill="none"/>
<polyline points="1270.70,288.70 1951.40,492.23" stroke="#000" stroke-width="3.6" fill="none"/>
<circle cx="1363.00" cy="200.30" r="19.30" fill="#000"/>
<circle cx="1452.40" cy="223.90" r="19.30" fill="#000"/>
<circle cx="1522.20" cy="237.20" r="19.30" fill="#000"/>
<circle cx="1583.10" cy="251.40" r="19.30" fill="#000"/>
<circle cx="1628.60" cy="268.60" r="19.30" fill="#000"/>
<circle cx="1720.50" cy="289.30" r="19.30" fill="#000"/>
<circle cx="1747.10" cy="292.20" r="19.30" fill="#000"/>
<circle cx="1800.10" cy="302.10" r="19.30" fill="#000"/>
<circle cx="1829.10" cy="308.00" r="19.30" fill="#000"/>
<circle cx="1954.40" cy="330.90" r="19.30" fill="#000"/>
<rect x="457.0" y="75.8" width="346.0" height="213.8" fill="none" stroke="#161616" stroke-width="4"/>
<circle cx="536.1" cy="135.4" r="25.0" fill="#000"/>
<circle cx="535.7" cy="230.5" r="25.0" fill="none" stroke="#111" stroke-width="2.5"/>
<text x="99.55" y="273.10" style="font-size:80.50px;" fill="#000">3×10</text>
<text x="266.20" y="245.10" style="font-size:60.00px;" fill="#000">−</text>
<text x="300.04" y="242.60" style="font-size:60.00px;" fill="#000">7</text>
<text x="97.46" y="535.50" style="font-size:80.50px;" fill="#000">2×10</text>
<text x="264.11" y="507.50" style="font-size:60.00px;" fill="#000">−</text>
<text x="297.95" y="505.00" style="font-size:60.00px;" fill="#000">7</text>
<text x="98.92" y="797.90" style="font-size:80.50px;" fill="#000">1×10</text>
<text x="265.57" y="769.90" style="font-size:60.00px;" fill="#000">−</text>
<text x="299.41" y="767.40" style="font-size:60.00px;" fill="#000">7</text>
<text x="284.33" y="1058.70" style="font-size:80.50px;" fill="#000">0</text>
<text x="374.93" y="1153.20" style="font-size:80.50px;" fill="#000">0</text>
<text x="902.93" y="1153.40" style="font-size:80.50px;" fill="#000">1×10</text>
<text x="1069.57" y="1122.60" style="font-size:58.00px;" fill="#000">14</text>
<text x="1518.93" y="1153.40" style="font-size:80.50px;" fill="#000">2×10</text>
<text x="1685.57" y="1122.60" style="font-size:58.00px;" fill="#000">14</text>
<text x="895.86" y="1275.70" style="font-size:80.00px;" fill="#000">[</text>
<text x="920.52" y="1273.20" style="font-size:80.00px;" fill="#000">O</text>
<text x="978.33" y="1287.00" style="font-size:60.00px;" fill="#000">3</text>
<text x="1009.11" y="1275.70" style="font-size:80.00px;" fill="#000">]</text>
<text x="1033.01" y="1287.00" style="font-size:60.00px;" fill="#000">0</text>
<text x="1085.06" y="1271.00" style="font-size:76.00px;" fill="#000">(</text>
<text x="1111.94" y="1273.20" style="font-size:79.10px;" fill="#000">molecules cm</text>
<text x="1548.65" y="1241.70" style="font-size:58.00px;" fill="#000">-3</text>
<text x="1598.55" y="1271.00" style="font-size:76.00px;" fill="#000">)</text>
<text transform="translate(65.5 563.5) rotate(-90) skewX(-14) scale(1.05 1)" style="font-family:'Noto Serif CJK SC','Liberation Serif',serif;font-size:72px;font-weight:600" fill="#000" stroke="#000" stroke-width="0.9">γ</text>
<text transform="translate(607.7 163.0) skewX(-14) scale(1.05 1)" style="font-family:'Noto Serif CJK SC','Liberation Serif',serif;font-size:72px;font-weight:600" fill="#000" stroke="#000" stroke-width="0.9">γ</text>
<text x="654.40" y="177.00" style="font-size:63.00px;" fill="#000">0</text>
<text transform="translate(608.0 258.6) skewX(-14) scale(1.05 1)" style="font-family:'Noto Serif CJK SC','Liberation Serif',serif;font-size:72px;font-weight:600" fill="#000" stroke="#000" stroke-width="0.9">γ</text>
<text x="656.02" y="272.50" style="font-size:63.00px;" fill="#000">ss</text>
<text transform="translate(1009.45 149.50) scale(1 1.1000)" style="font-size:57.50px;" fill="#000">10</text>
<text transform="translate(1067.73 128.50) scale(1 1.1000)" style="font-size:44.50px;" fill="#000">−</text>
<text transform="translate(1092.83 125.00) scale(1 1.1000)" style="font-size:44.50px;" fill="#000">6</text>
<text transform="translate(1009.45 289.50) scale(1 1.1000)" style="font-size:57.50px;" fill="#000">10</text>
<text transform="translate(1067.73 268.50) scale(1 1.1000)" style="font-size:44.50px;" fill="#000">−</text>
<text transform="translate(1092.83 265.00) scale(1 1.1000)" style="font-size:44.50px;" fill="#000">7</text>
<text transform="translate(1009.45 429.50) scale(1 1.1000)" style="font-size:57.50px;" fill="#000">10</text>
<text transform="translate(1067.73 408.50) scale(1 1.1000)" style="font-size:44.50px;" fill="#000">−</text>
<text transform="translate(1092.83 405.00) scale(1 1.1000)" style="font-size:44.50px;" fill="#000">8</text>
<text transform="translate(1009.45 569.50) scale(1 1.1000)" style="font-size:57.50px;" fill="#000">10</text>
<text transform="translate(1067.73 548.50) scale(1 1.1000)" style="font-size:44.50px;" fill="#000">−</text>
<text transform="translate(1092.83 545.00) scale(1 1.1000)" style="font-size:44.50px;" fill="#000">9</text>
<text transform="translate(1294.70 669.50) scale(1 1.1000)" style="font-size:57.50px;" fill="#000">10</text>
<text transform="translate(1352.20 646.50) scale(1 1.1000)" style="font-size:44.50px;" fill="#000">12</text>
<text transform="translate(1548.25 669.50) scale(1 1.1000)" style="font-size:57.50px;" fill="#000">10</text>
<text transform="translate(1605.75 646.50) scale(1 1.1000)" style="font-size:44.50px;" fill="#000">13</text>
<text transform="translate(1801.80 669.50) scale(1 1.1000)" style="font-size:57.50px;" fill="#000">10</text>
<text transform="translate(1859.30 646.50) scale(1 1.1000)" style="font-size:44.50px;" fill="#000">14</text>
</g>
</svg>
</body></html>
